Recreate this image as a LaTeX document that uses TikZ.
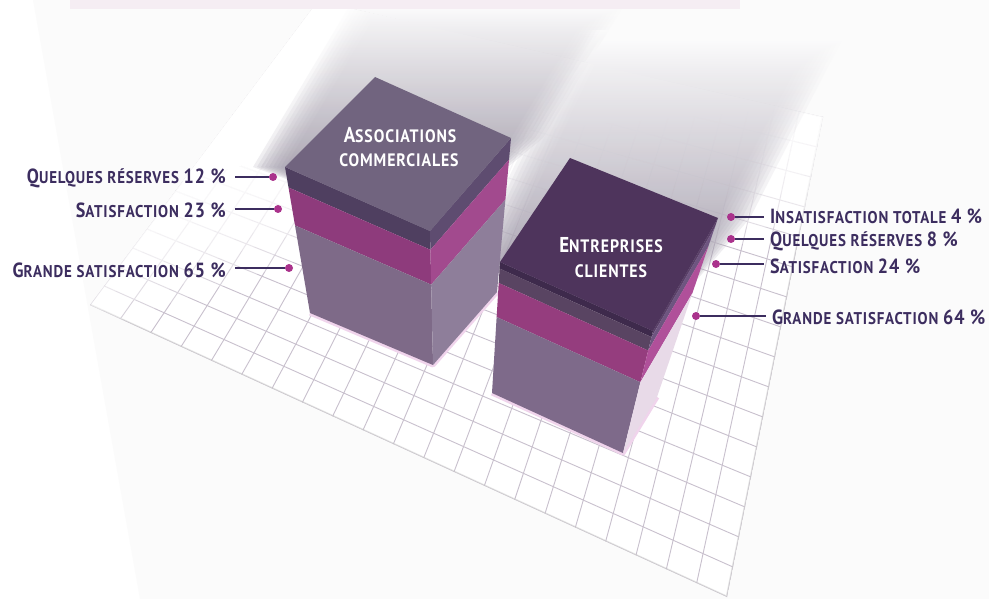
\documentclass[tikz,border=0pt]{standalone}
\usepackage{fontspec}
\setmainfont{PT Sans}
\newfontfamily\labfont{PT Sans}[FakeStretch=0.88,LetterSpace=5]
\usetikzlibrary{calc}
\definecolor{txt}{HTML}{3C2D5F}
\definecolor{dotc}{HTML}{AA328C}
\definecolor{gridc}{HTML}{C8C0CD}
\definecolor{bgc}{HTML}{FBFBFB}
\definecolor{barc}{HTML}{F5EDF3}
\definecolor{colA}{HTML}{7A7186}
\definecolor{colB}{HTML}{847B90}
\definecolor{glowc}{HTML}{F0D4EC}
\definecolor{aTop}{HTML}{71647F}
\definecolor{aDark}{HTML}{4F3F60}
\definecolor{aMag}{HTML}{8E3B7C}
\definecolor{aLow}{HTML}{7E6A88}
\definecolor{aRDark}{HTML}{5E4C70}
\definecolor{aRMag}{HTML}{A24A8E}
\definecolor{aRLow}{HTML}{8E7E9A}
\definecolor{bTop}{HTML}{4E345C}
\definecolor{bIns}{HTML}{3E2A4C}
\definecolor{bDark}{HTML}{594462}
\definecolor{bMag}{HTML}{953D7E}
\definecolor{bLow}{HTML}{7E6A8A}
\definecolor{bRIns}{HTML}{5A4068}
\definecolor{bRDark}{HTML}{6E5580}
\definecolor{bRMag}{HTML}{B0509A}
\definecolor{bRLow}{HTML}{E8DAE8}
\newcommand\lbBig{\fontsize{20.5}{22}\selectfont}
\newcommand\lbSmall{\fontsize{17}{18}\selectfont}
\newcommand\ttBig{\fontsize{21.5}{22}\selectfont}
\newcommand\ttSmall{\fontsize{18}{19}\selectfont}
\newcommand\faceband[7]{\fill[#1] ($(#2)!#6!(#3)$) -- ($(#4)!#6!(#5)$) -- ($(#4)!#7!(#5)$) -- ($(#2)!#7!(#3)$) -- cycle;}
\begin{document}
\begin{tikzpicture}[x=1pt,y=-1pt,
  lab/.style={font=\labfont\bfseries, text=txt, inner sep=0pt},
  ttl/.style={font=\labfont\bfseries, text=white, inner sep=0pt, anchor=base},
  dotn/.style={circle, fill=dotc, inner sep=0pt, minimum size=8pt},
  conn/.style={draw=txt, line width=1.2pt},
  gridln/.style={draw=gridc, line width=0.9pt},
  glow/.style={draw=glowc, line width=5pt, line join=round}]
\useasboundingbox (0,0) rectangle (989,599);
\fill[white] (0,0) rectangle (989,599);
\fill[bgc] (33,0) -- (140,599) -- (989,599) -- (989,0) -- cycle;
% floor grid
\coordinate (gL) at (90,305);
\coordinate (gB) at (727,597);
\coordinate (gR) at (823,117);
\coordinate (gT) at (318,1);
\coordinate (fO1) at (0,230);
\coordinate (fO2) at (300,150);
\coordinate (fO3) at (1000,90);
\coordinate (fT1) at (0,360);
\coordinate (fT2) at (330,250);
\coordinate (fT3) at (1000,240);
\begin{scope}
  \clip (gL) -- (gB) -- (gR) -- (gT) -- cycle;
  \fill[white] (gL) -- (gB) -- (gR) -- (gT) -- cycle;
  \foreach \i in {0,...,21} \draw[gridln] ($(gL)!\i/21!(gB)$) -- ($(gT)!\i/21!(gR)$);
  \foreach \j in {0,...,16} \draw[gridln] ($(gL)!\j/16!(gT)$) -- ($(gB)!\j/16!(gR)$);
  \draw[gray!45, line width=2.5pt, opacity=0.5] (gL) -- (gB) -- (gR);
  \fill[white] (0,-10) -- (fO1) -- (fO2) -- (fO3) -- (1000,-10) -- cycle;
  \foreach \k in {1,...,8}
    \fill[white, opacity=0.28] (0,-10) -- ($(fO1)!\k/8!(fT1)$) -- ($(fO2)!\k/8!(fT2)$) -- ($(fO3)!\k/8!(fT3)$) -- (1000,-10) -- cycle;
\end{scope}
% box corners
\coordinate (ATL) at (285,167);
\coordinate (ATT) at (375,77);
\coordinate (ATR) at (511,138);
\coordinate (ATF) at (430,231);
\coordinate (ABL) at (310,313);
\coordinate (ABF) at (433,365);
\coordinate (ABR) at (497,292);
\coordinate (BTL) at (500,262);
\coordinate (BTT) at (570,158);
\coordinate (BTR) at (718,218);
\coordinate (BTF) at (653,331);
\coordinate (BBL) at (492,393);
\coordinate (BBF) at (623,453);
\coordinate (BBR) at (657,397);
% light columns above the boxes, soft edges
\foreach \d in {32,28,...,0} {
  \shade[top color=white, bottom color=colA, opacity=0.17]
    ($(ATL)+(-\d,0)$) -- (385-\d,0) -- (595+\d,0) -- ($(ATR)+(\d,0)$) -- (ATF) -- cycle;
  \shade[top color=white, bottom color=colB, opacity=0.17]
    ($(BTL)+(-\d,0)$) -- (612-\d,30) -- (815+\d,30) -- ($(BTR)+(\d,0)$) -- (BTF) -- cycle;
}
\fill[barc] (70,0) rectangle (740,9);
% glow at the foot of the boxes
\draw[glow] (ABL) -- (ABF) -- (ABR);
\draw[glow] (BBL) -- (BBF) -- (BBR);
% box A
\faceband{aDark}{ATL}{ABL}{ATF}{ABF}{0}{0.14}
\faceband{aMag}{ATL}{ABL}{ATF}{ABF}{0.14}{0.40}
\faceband{aLow}{ATL}{ABL}{ATF}{ABF}{0.40}{1}
\faceband{aRDark}{ATF}{ABF}{ATR}{ABR}{0}{0.14}
\faceband{aRMag}{ATF}{ABF}{ATR}{ABR}{0.14}{0.40}
\faceband{aRLow}{ATF}{ABF}{ATR}{ABR}{0.40}{1}
\fill[aTop] (ATL) -- (ATT) -- (ATR) -- (ATF) -- cycle;
% box B
\faceband{bIns}{BTL}{BBL}{BTF}{BBF}{0}{0.05}
\faceband{bDark}{BTL}{BBL}{BTF}{BBF}{0.05}{0.16}
\faceband{bMag}{BTL}{BBL}{BTF}{BBF}{0.16}{0.42}
\faceband{bLow}{BTL}{BBL}{BTF}{BBF}{0.42}{1}
\faceband{bRIns}{BTF}{BBF}{BTR}{BBR}{0}{0.05}
\faceband{bRDark}{BTF}{BBF}{BTR}{BBR}{0.05}{0.16}
\faceband{bRMag}{BTF}{BBF}{BTR}{BBR}{0.16}{0.42}
\faceband{bRLow}{BTF}{BBF}{BTR}{BBR}{0.42}{1}
\fill[bTop] (BTL) -- (BTT) -- (BTR) -- (BTF) -- cycle;
% box titles
\node[ttl] (ta) at (400,143) {\ttBig A\ttSmall SSOCIATIONS};
\node[ttl] (tc) at (399,167) {\ttSmall COMMERCIALES};
\node[ttl] (tb) at (611,253) {\ttBig E\ttSmall NTREPRISES};
\node[ttl] (td) at (611,277) {\ttSmall CLIENTES};
% left labels
\node[lab, anchor=base east] (la1) at (226,184) {\lbBig Q\lbSmall UELQUES RÉSERVES \lbBig 12 \%};
\node[lab, anchor=base east] (la2) at (226,218) {\lbBig S\lbSmall ATISFACTION \lbBig 23 \%};
\node[lab, anchor=base east] (la3) at (226,277) {\lbBig G\lbSmall RANDE SATISFACTION \lbBig 65 \%};
\node[dotn] (da1) at (273,177) {};
\node[dotn] (da2) at (278,209) {};
\node[dotn] (da3) at (289,268) {};
\draw[conn, shorten <=9pt] (la1.east |- da1) -- (da1);
\draw[conn, shorten <=9pt] (la2.east |- da2) -- (da2);
\draw[conn, shorten <=9pt] (la3.east |- da3) -- (da3);
% right labels
\node[lab, anchor=base west] (lb1) at (770,224) {\lbBig I\lbSmall NSATISFACTION TOTALE \lbBig 4 \%};
\node[lab, anchor=base west] (lb2) at (770,247) {\lbBig Q\lbSmall UELQUES RÉSERVES \lbBig 8 \%};
\node[lab, anchor=base west] (lb3) at (770,273) {\lbBig S\lbSmall ATISFACTION \lbBig 24 \%};
\node[lab, anchor=base west] (lb4) at (772,324) {\lbBig G\lbSmall RANDE SATISFACTION \lbBig 64 \%};
\node[dotn] (db1) at (731,217) {};
\node[dotn] (db2) at (731,239) {};
\node[dotn] (db3) at (716,264) {};
\node[dotn] (db4) at (696,316) {};
\draw[conn, shorten >=6pt] (db1) -- (lb1.west |- db1);
\draw[conn, shorten >=6pt] (db2) -- (lb2.west |- db2);
\draw[conn, shorten >=6pt] (db3) -- (lb3.west |- db3);
\draw[conn, shorten >=6pt] (db4) -- (lb4.west |- db4);
\end{tikzpicture}
\end{document}
